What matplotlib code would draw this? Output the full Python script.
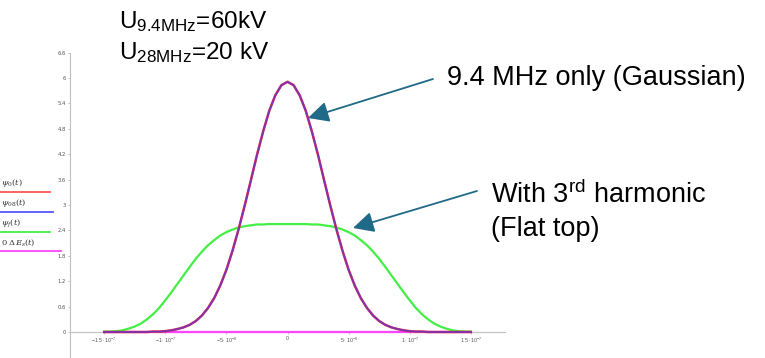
import numpy as np
import matplotlib.pyplot as plt
from matplotlib.lines import Line2D
from matplotlib.patches import FancyArrowPatch

# time axis (s), 5 ns steps
t = np.arange(-150, 155, 5) * 1e-9

# bunch profiles
gauss = [0.00, 0.00, 0.00, 0.00, 0.00, 0.00, 0.00, 0.00, 0.01, 0.01,
         0.02, 0.04, 0.07, 0.11, 0.17, 0.26, 0.39, 0.57, 0.80, 1.10,
         1.47, 1.92, 2.43, 2.99, 3.58, 4.18, 4.73, 5.22, 5.59, 5.83,
         5.91,
         5.83, 5.59, 5.22, 4.73, 4.18, 3.58, 2.99, 2.43, 1.92, 1.47,
         1.10, 0.80, 0.57, 0.39, 0.26, 0.17, 0.11, 0.07, 0.04, 0.02,
         0.01, 0.01, 0.00, 0.00, 0.00, 0.00, 0.00, 0.00, 0.00, 0.00]
flat = [0.01, 0.01, 0.02, 0.04, 0.08, 0.13, 0.20, 0.30, 0.42, 0.57,
        0.75, 0.94, 1.14, 1.34, 1.54, 1.73, 1.90, 2.05, 2.17, 2.28,
        2.36, 2.42, 2.47, 2.50, 2.52, 2.54, 2.54, 2.55, 2.55, 2.55,
        2.55,
        2.55, 2.55, 2.55, 2.54, 2.54, 2.52, 2.50, 2.47, 2.42, 2.36,
        2.28, 2.17, 2.05, 1.90, 1.73, 1.54, 1.34, 1.14, 0.94, 0.75,
        0.57, 0.42, 0.30, 0.20, 0.13, 0.08, 0.04, 0.02, 0.01, 0.01]
energy = [0.0] * 61

xticks = [-1.5e-7, -1e-7, -5e-8, 0, 5e-8, 1e-7, 1.5e-7]
xlabels = [r'$-1.5\cdot10^{-7}$', r'$-1\cdot10^{-7}$', r'$-5\cdot10^{-8}$', '0',
           r'$5\cdot10^{-8}$', r'$1\cdot10^{-7}$', r'$1.5\cdot10^{-7}$']
yticks = [0, 0.6, 1.2, 1.8, 2.4, 3, 3.6, 4.2, 4.8, 5.4, 6, 6.6]
ylabels = ['0', '0.6', '1.2', '1.8', '2.4', '3', '3.6', '4.2', '4.8', '5.4', '6', '6.6']
legend_labels = [r'$\psi_0(t)$', r'$\psi_{08}(t)$', r'$\psi_f(t)$', r'$0\ \Delta E_s(t)$']
legend_colors = ['#ff5555', '#5555ff', '#44ee44', '#ff44ff']

plt.rcParams['font.family'] = ['Liberation Sans', 'DejaVu Sans']
plt.rcParams['mathtext.fontset'] = 'custom'
plt.rcParams['mathtext.rm'] = 'Liberation Sans'
plt.rcParams['mathtext.it'] = 'Liberation Sans:italic'

W, H = 765, 358
fig = plt.figure(figsize=(W / 100, H / 100), dpi=100)


def fx(px):
    return px / W


def fy(py):
    return (H - py) / H


ax = fig.add_axes([fx(70), fy(357.4), 435 / W, 304.8 / H])
ax.set_xlim(-1.78e-7, 1.78e-7)
ax.set_ylim(-0.6, 6.6)

ax.plot(t, energy, color='#ff44ff', lw=1.6, zorder=3)
ax.plot(t, flat, color='#44ee44', lw=1.6, zorder=3)
ax.plot(t, gauss, color='#ff3030', lw=1.8, zorder=4)
ax.plot(t, gauss, color='#3030ff', lw=1.4, alpha=0.6, zorder=5)

for s in ['top', 'right']:
    ax.spines[s].set_visible(False)
ax.spines['bottom'].set_position(('data', 0))
for s in ['left', 'bottom']:
    ax.spines[s].set_color('#c0c0c0')
    ax.spines[s].set_linewidth(0.8)

ax.set_xticks(xticks)
ax.set_xticklabels(xlabels)
ax.set_yticks(yticks)
ax.set_yticklabels(ylabels, family='DejaVu Sans')
ax.tick_params(axis='both', labelsize=3.8, labelcolor='#555555', color='#aaaaaa',
               length=1.5, width=0.5, pad=1.5)
ax.patch.set_alpha(0)

# legend on the left edge
leg_y = [192, 212, 232, 251]
leg_len = [50, 53, 50, 61]
for lab, col, y, ln in zip(legend_labels, legend_colors, leg_y, leg_len):
    fig.add_artist(Line2D([0, fx(ln)], [fy(y), fy(y)], color=col, lw=1.3))
    fig.text(fx(1), fy(y - 3), lab, fontsize=6, color='#333333',
             math_fontfamily='dejavuserif', ha='left', va='bottom')

# annotations
fig.text(fx(119), fy(28), r'U$_{\mathrm{9.4MHz}}$=60kV', fontsize=17.5, color='black')
fig.text(fx(119), fy(59), r'U$_{\mathrm{28MHz}}$=20 kV', fontsize=17.5, color='black')
fig.text(fx(447), fy(85), '9.4 MHz only (Gaussian)', fontsize=19.5, color='black')
fig.text(fx(491), fy(203), r'With 3$^{\mathrm{rd}}$ harmonic', fontsize=19.5, color='black')
fig.text(fx(491), fy(236), '(Flat top)', fontsize=19.5, color='black')

arrow_color = '#1f6a86'
for (x0, y0), (x1, y1) in [((433, 79), (308, 118)), ((477, 191), (353, 228))]:
    fig.add_artist(FancyArrowPatch(
        (fx(x0), fy(y0)), (fx(x1), fy(y1)), transform=fig.transFigure,
        arrowstyle='-|>,head_length=0.9,head_width=0.45', mutation_scale=14,
        color=arrow_color, lw=1.3, shrinkA=0, shrinkB=0))

fig.savefig('out.png', dpi=100)
